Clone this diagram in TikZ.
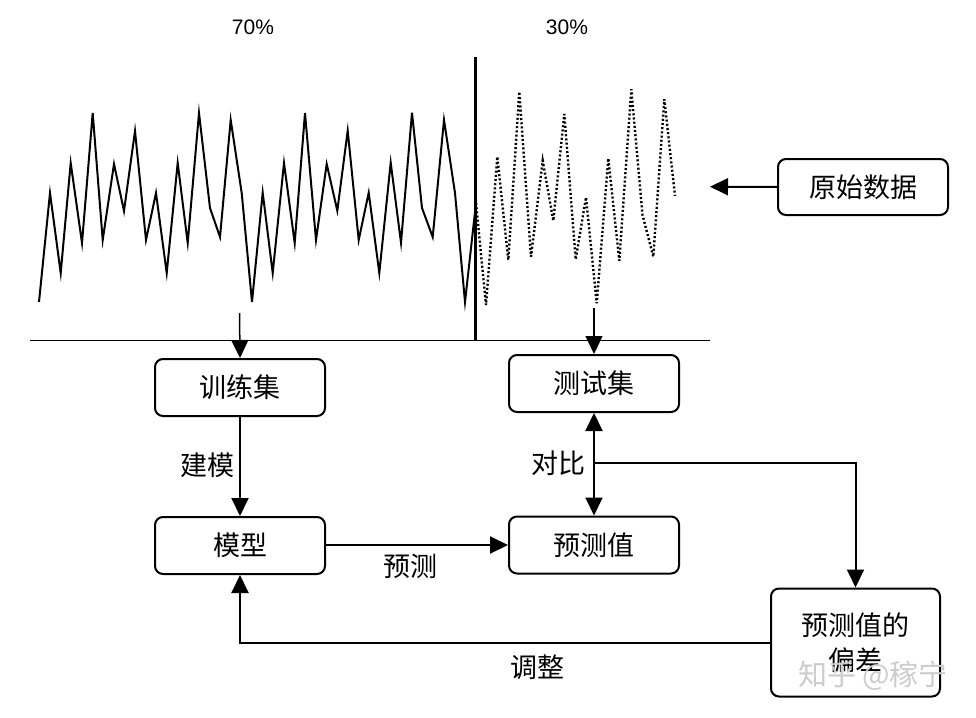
\documentclass[tikz,border=0pt]{standalone}
\usepackage{fontspec}
\setmainfont{Liberation Sans}
\newfontfamily\cjk{Noto Sans CJK SC}
\usetikzlibrary{arrows.meta}
\begin{document}
\begin{tikzpicture}[x=1pt,y=-1pt,
  >={Triangle[length=18pt,width=17pt]},
  box/.style={draw, line width=2pt, rounded corners=8pt, minimum width=170pt,
    minimum height=57pt, inner sep=0pt, align=center,
    font=\cjk\fontsize{27}{35}\selectfont},
  lbl/.style={font=\cjk\fontsize{27}{32}\selectfont, inner sep=0pt},
  pct/.style={font=\fontsize{21}{25}\selectfont, inner sep=0pt},
  link/.style={line width=2pt},
  thinlink/.style={line width=1.5pt},
  series/.style={line width=2pt, line join=miter},
  dotseries/.style={line width=2.4pt, dash pattern=on 2pt off 2.2pt},
]
\useasboundingbox (0,0) rectangle (976,717);

% percentages
\node[pct] (p70) at (253,27) {70\%};
\node[pct] (p30) at (567,27) {30\%};

% axis and divider
\draw[line width=1pt] (30,340) -- (710,340);
\draw[line width=3pt] (475.7,57) -- (475.7,340);

% training series (solid)
\draw[series] (39,302) -- (50,193) -- (60.7,273) -- (70.7,163) -- (82,243) -- (92.7,113)
 -- (102.7,240) -- (114,164) -- (124,211) -- (135,131) -- (146,240) -- (156,193)
 -- (166.7,273) -- (177.7,163) -- (187.7,243) -- (199,113) -- (210,208) -- (220,237)
 -- (230.7,120) -- (241.7,193) -- (252,302) -- (262.7,192.7) -- (272.7,273) -- (284,163)
 -- (294.7,243) -- (305,113) -- (316,240) -- (326.7,164) -- (337.3,210.7) -- (347.7,130.7)
 -- (358.7,240) -- (368.7,192.7) -- (379.3,273) -- (390.7,162.7) -- (401,242.7) -- (412,112.7)
 -- (422,208) -- (432.7,237) -- (444,120) -- (455,193) -- (465,302) -- (476,203);

% test series (dotted)
\draw[dotseries] (476,203) -- (486,305) -- (497.3,156.7) -- (508.3,260) -- (519.3,91.7)
 -- (531,256.7) -- (542.7,160.7) -- (553.3,220.7) -- (564.3,114) -- (575.7,259.3)
 -- (586,197.3) -- (596.7,303.3) -- (608.3,158.3) -- (619.3,260.7) -- (631.3,89.3)
 -- (642.5,215) -- (653.3,256.7) -- (664.3,99.3) -- (675,196);

% boxes
\node[box] (train) at (240,387.5) {训练集};
\node[box] (model) at (240,545.5) {模型};
\node[box] (test) at (594,383.5) {测试集};
\node[box] (pred) at (594,545) {预测值};
\node[box, minimum height=56pt] (raw) at (863,187) {原始数据};
\node[box, minimum width=169pt, minimum height=108pt] (dev) at (855.5,642.5) {预测值的\\偏差};

% helper coordinates
\coordinate (rawend) at (710,186.7);
\coordinate (trainsrc) at (239.5,313);
\coordinate (testsrc) at (594,308);
\coordinate (cmp) at (594,462.7);

% connectors
\draw[link,->] (raw.west) -- (rawend);
\draw[thinlink,->] (trainsrc) -- (train.north);
\draw[thinlink,->] (testsrc) -- (test.north);
\draw[link,->] (train.south) -- (model.north);
\draw[link,<->] (test.south) -- (pred.north);
\draw[link,->] (model.east |- pred.west) -- (pred.west);
\draw[link,->] (cmp) -| (dev.north);
\draw[link,->] (dev.west) -| (model.south);

% labels
\node[lbl] (l1) at (207,465) {建模};
\node[lbl] (l2) at (558,463.5) {对比};
\node[lbl] (l3) at (410.5,566.5) {预测};
\node[lbl] (l4) at (537,667) {调整};

% watermark
\node[font=\cjk\fontsize{29}{32}\selectfont, text=gray!40, inner sep=0pt] (wm) at (873,676) {知乎 @稼宁};
\end{tikzpicture}
\end{document}
